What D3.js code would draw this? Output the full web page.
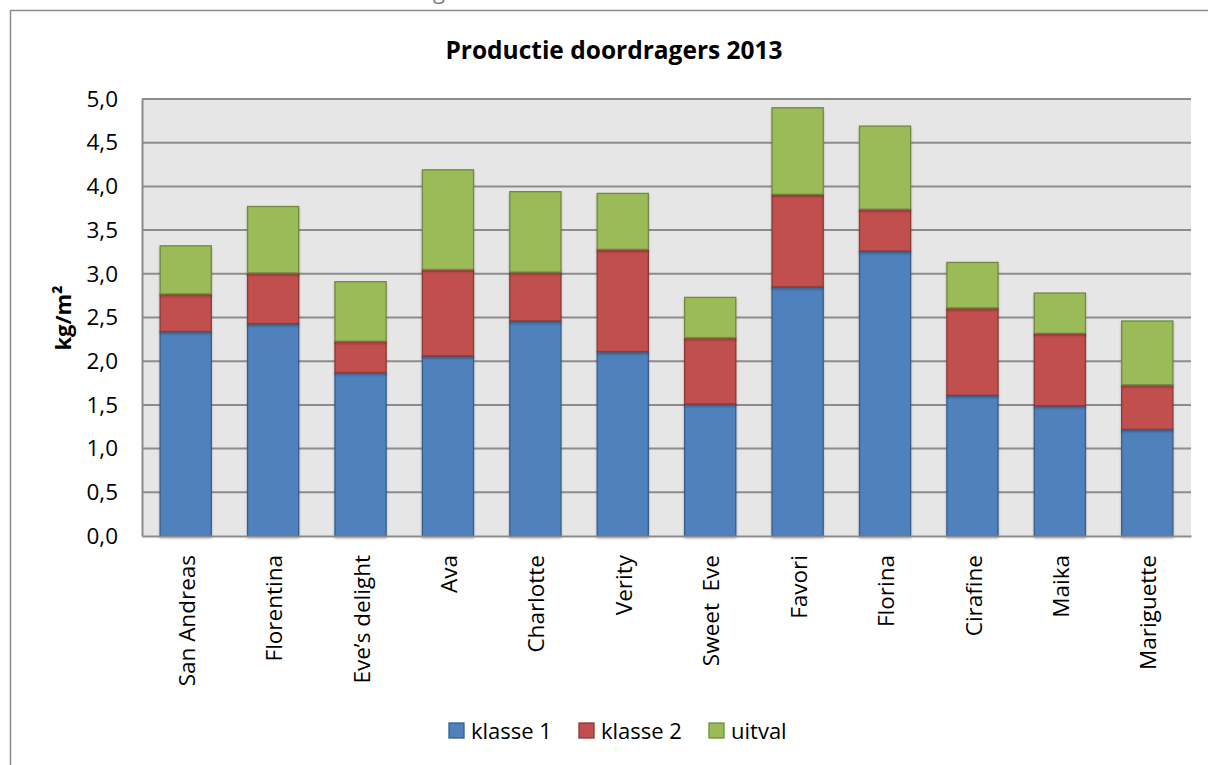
<!DOCTYPE html>
<html>
<head>
<meta charset="utf-8">
<script src="https://cdn.jsdelivr.net/npm/d3@7"></script>
<style>
  body { margin: 0; background: #fff; }
  svg { display: block; font-family: "Open Sans", sans-serif; }
  text { white-space: pre; }
</style>
</head>
<body>
<svg id="chart" width="1208" height="765"></svg>
<script>
// data
let rassen = ["San Andreas", "Florentina", "Eve\u2019s delight", "Ava", "Charlotte", "Verity",
              "Sweet  Eve", "Favori", "Florina", "Cirafine", "Maika", "Mariguette"];
let klasse1 = [2.34, 2.43, 1.87, 2.06, 2.46, 2.11, 1.51, 2.85, 3.26, 1.61, 1.49, 1.22];
let klasse2 = [0.43, 0.58, 0.36, 0.99, 0.56, 1.17, 0.76, 1.06, 0.48, 1.00, 0.83, 0.51];
let uitval  = [0.55, 0.76, 0.68, 1.14, 0.92, 0.64, 0.46, 0.99, 0.95, 0.52, 0.46, 0.73];
let yTicks = [0, 0.5, 1, 1.5, 2, 2.5, 3, 3.5, 4, 4.5, 5];

let series = [
    { key: "klasse 1", fill: "#4F81BD", stroke: "#385D8A" },
    { key: "klasse 2", fill: "#C0504D", stroke: "#8C3836" },
    { key: "uitval",   fill: "#9BBB59", stroke: "#71893F" }
];

let table = rassen.map(function(r, i) {
    return { ras: r, "klasse 1": klasse1[i], "klasse 2": klasse2[i], "uitval": uitval[i] };
});

let svg = d3.select("#chart");
let plot = { left: 142, right: 1191, top: 99, bottom: 536 };

// cut-off text from the page above
svg.append("text")
    .attr("x", 433).attr("y", -1)
    .attr("font-size", 22)
    .attr("fill", "#7f7f7f")
    .text("g");

// chart frame
svg.append("rect")
    .attr("x", 10.5).attr("y", 10.5)
    .attr("width", 1260).attr("height", 800)
    .attr("fill", "#fff")
    .attr("stroke", "#8c8c8c")
    .attr("stroke-width", 1.5);

let defs = svg.append("defs");
defs.append("filter").attr("id", "shadow")
    .attr("x", "-10%").attr("y", "-10%").attr("width", "120%").attr("height", "120%")
    .append("feDropShadow")
    .attr("dx", 0).attr("dy", 2).attr("stdDeviation", 1)
    .attr("flood-color", "#000").attr("flood-opacity", 0.25);

let x = d3.scaleBand()
    .domain(rassen)
    .range([plot.left, plot.right])
    .paddingInner(0.415)
    .paddingOuter(0.2075);

let y = d3.scaleLinear()
    .domain([0, 5])
    .range([plot.bottom, plot.top]);

// plot background
svg.append("rect")
    .attr("x", plot.left).attr("y", plot.top)
    .attr("width", plot.right - plot.left).attr("height", plot.bottom - plot.top)
    .attr("fill", "#e6e6e6");

// gridlines
svg.append("g")
    .selectAll("line")
    .data(yTicks.filter(d => d > 0))
    .enter().append("line")
    .attr("x1", plot.left).attr("x2", plot.right)
    .attr("y1", d => y(d)).attr("y2", d => y(d))
    .attr("stroke", "#8c8c8c")
    .attr("stroke-width", 2);

// stacked bars
let stack = d3.stack().keys(series.map(s => s.key));
let layers = stack(table);

svg.append("g")
    .selectAll("g")
    .data(layers)
    .enter().append("g")
    .attr("fill", (d, i) => series[i].fill)
    .attr("stroke", (d, i) => series[i].stroke)
    .attr("stroke-width", 1.3)
    .attr("filter", "url(#shadow)")
    .selectAll("rect")
    .data(d => d)
    .enter().append("rect")
    .attr("x", d => x(d.data.ras))
    .attr("width", x.bandwidth())
    .attr("y", d => y(d[1]))
    .attr("height", d => y(d[0]) - y(d[1]));

// y axis
let yAxis = svg.append("g")
    .attr("transform", "translate(" + plot.left + ",0)")
    .call(d3.axisLeft(y)
        .tickValues(yTicks)
        .tickSize(0)
        .tickPadding(24)
        .tickFormat(d => d3.format(".1f")(d).replace(".", ",")));
yAxis.select(".domain").attr("stroke", "#8c8c8c").attr("stroke-width", 2);
yAxis.selectAll("text")
    .attr("font-size", 22.5)
    .attr("font-family", "Open Sans, sans-serif")
    .attr("fill", "#000");

// x axis
let xAxis = svg.append("g")
    .attr("transform", "translate(0," + plot.bottom + ")")
    .call(d3.axisBottom(x).tickSize(0).tickPadding(0));
xAxis.select(".domain").attr("stroke", "#8c8c8c").attr("stroke-width", 2);
xAxis.selectAll("text")
    .attr("font-size", 22.5)
    .attr("font-family", "Open Sans, sans-serif")
    .attr("fill", "#000")
    .attr("text-anchor", "end")
    .attr("transform", "translate(1,19) rotate(-90)")
    .attr("dy", "0.36em")
    .attr("y", 0)
    .attr("x", 0);

// title
svg.append("text")
    .attr("x", 614).attr("y", 59)
    .attr("text-anchor", "middle")
    .attr("font-size", 24.5)
    .attr("font-weight", "bold")
    .text("Productie doordragers 2013");

// y label
svg.append("text")
    .attr("transform", "translate(71,318) rotate(-90)")
    .attr("text-anchor", "middle")
    .attr("font-size", 22)
    .attr("font-weight", "bold")
    .text("kg/m\u00B2");

// legend
let legendX = [449, 579, 709];
let legend = svg.append("g")
    .selectAll("g")
    .data(series)
    .enter().append("g")
    .attr("transform", (d, i) => "translate(" + legendX[i] + ",723)");
legend.append("rect")
    .attr("width", 15).attr("height", 15)
    .attr("fill", d => d.fill)
    .attr("stroke", d => d.stroke)
    .attr("stroke-width", 1.3);
legend.append("text")
    .attr("x", 22).attr("y", 16)
    .attr("font-size", 22)
    .text(d => d.key);
</script>
</body>
</html>
